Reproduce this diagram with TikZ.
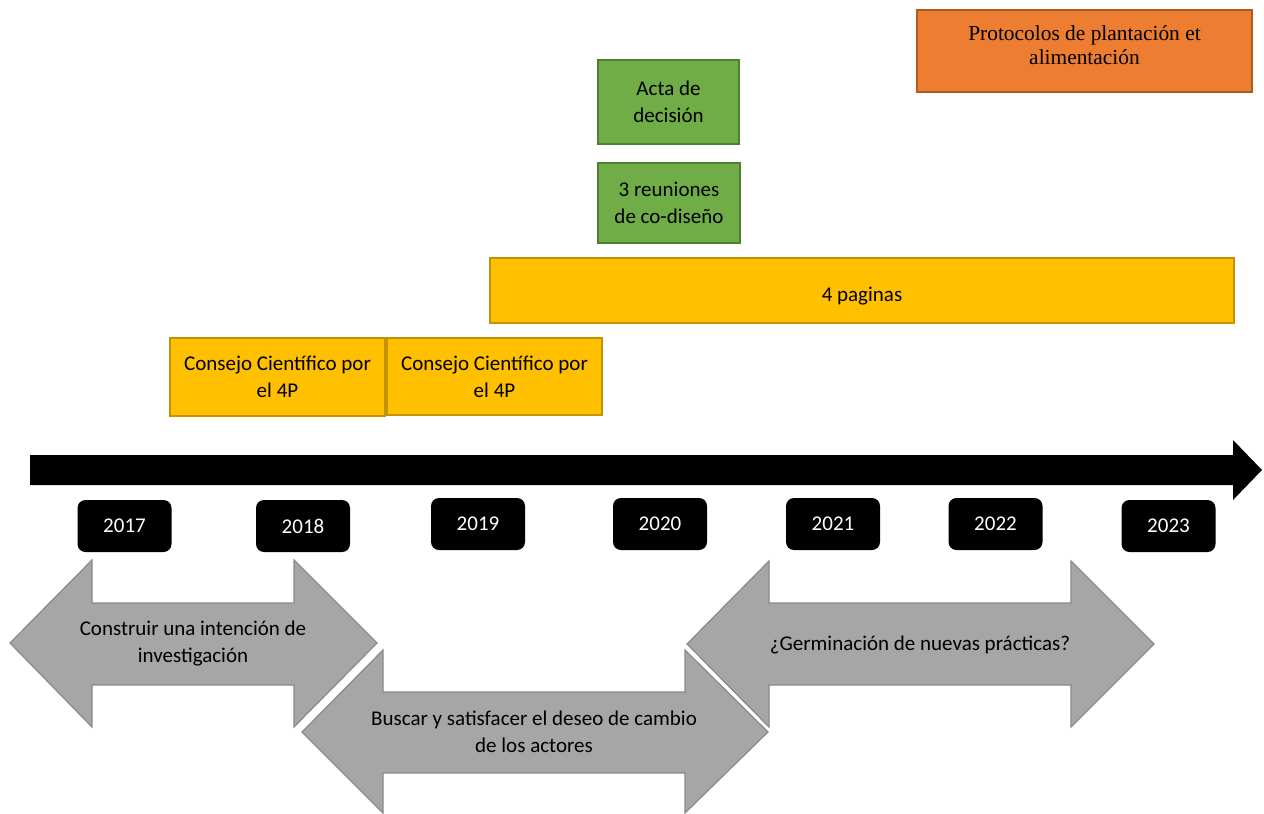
\documentclass[tikz,border=0pt]{standalone}
\usepackage{fontspec}
\setmainfont{Carlito}
\newfontfamily\timesfont{Liberation Serif}
\usepackage{tikz}
\usepackage{xcolor}
\usetikzlibrary{positioning}

\definecolor{orangefill}{HTML}{ED7D31}
\definecolor{orangeline}{HTML}{AE5A21}
\definecolor{greenfill}{HTML}{70AD47}
\definecolor{greenline}{HTML}{507E32}
\definecolor{yellowfill}{HTML}{FFC000}
\definecolor{yellowline}{HTML}{C39400}
\definecolor{grayfill}{HTML}{A6A6A6}
\definecolor{grayline}{HTML}{8A8A8A}

\begin{document}
\begin{tikzpicture}[
            x=0.5pt, y=-0.5pt,
            every node/.style={font=\fontsize{10.5}{13.5}\selectfont, align=center, inner sep=0pt},
            yellowbox/.style={rectangle, draw=yellowline, fill=yellowfill, line width=1pt},
            greenbox/.style={rectangle, draw=greenline, fill=greenfill, line width=1pt},
            yearbox/.style={rectangle, rounded corners=4pt, fill=black, text=white, minimum width=47pt, minimum height=26pt},
            grayarrow/.style={fill=grayfill, draw=grayline, line width=0.6pt},
        ]
            \useasboundingbox (0,0) rectangle (1264,814);

            % boxes above the time line
            \node[rectangle, draw=orangeline, fill=orangefill, line width=1pt, minimum width=167.5pt, minimum height=41pt,
                text depth=6pt, font=\timesfont\fontsize{10.7}{12}\selectfont] (protocolos) at (1084.5,51) {Protocolos de plantación et\\alimentación};
            \node[greenbox, minimum width=70.5pt, minimum height=42pt] (acta) at (668.5,102) {Acta de\\decisión};
            \node[greenbox, minimum width=71pt, minimum height=40pt] (reuniones) at (669,203) {3 reuniones\\de co-diseño};
            \node[yellowbox, minimum width=372pt, minimum height=32.5pt, text height=13pt] (paginas) at (862,290.5) {4 paginas};
            \node[yellowbox, minimum width=107.5pt, minimum height=39pt] (consejoA) at (277.5,377) {Consejo Científico por\\el 4P};
            \node[yellowbox, minimum width=107.5pt, minimum height=38.5pt] (consejoB) at (494.5,376.5) {Consejo Científico por\\el 4P};

            % time line
            \fill[black] (30,455) -- (1233,455) -- (1233,440) -- (1262,470) -- (1233,500) -- (1233,485) -- (30,485) -- cycle;

            % years
            \node[yearbox] (y2017) at (124.5,526) {2017};
            \node[yearbox] (y2018) at (303,526) {2018};
            \node[yearbox] (y2019) at (478,524) {2019};
            \node[yearbox] (y2020) at (660,524) {2020};
            \node[yearbox] (y2021) at (833,524) {2021};
            \node[yearbox] (y2022) at (995.5,524) {2022};
            \node[yearbox] (y2023) at (1168.5,526) {2023};

            % phases
            \filldraw[grayarrow] (10,643) -- (92,560) -- (92,603) -- (294,603) -- (294,560) -- (377,643)
                -- (294,727) -- (294,685) -- (92,685) -- (92,727) -- cycle;
            \node (intencion) at (193,644) {Construir una intención de\\investigación};

            \filldraw[grayarrow] (302,732) -- (383,650) -- (383,692) -- (685,692) -- (685,650) -- (768,732)
                -- (685,813) -- (685,773) -- (383,773) -- (383,813) -- cycle;
            \node (deseo) at (534,732) {Buscar y satisfacer el deseo de cambio\\de los actores};

            \filldraw[grayarrow] (687,644) -- (769,561) -- (769,603) -- (1071,603) -- (1071,561) -- (1154,644)
                -- (1071,727) -- (1071,685) -- (769,685) -- (769,727) -- cycle;
            \node (germinacion) at (920,645) {¿Germinación de nuevas prácticas?};
        \end{tikzpicture}
\end{document}
